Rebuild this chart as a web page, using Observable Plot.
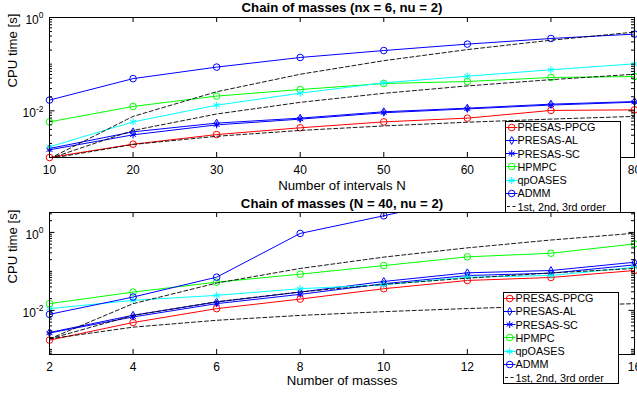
<!DOCTYPE html>
<html><head><meta charset="utf-8">
<script src="https://cdn.jsdelivr.net/npm/d3@7"></script>
<script src="https://cdn.jsdelivr.net/npm/@observablehq/plot@0.6"></script>
<style>
body{margin:0;background:#fff;}
#fig{position:relative;width:637px;height:394px;overflow:hidden;background:#fff;font-family:"Liberation Sans",Arial,Helvetica,sans-serif;}
#fig > svg{position:absolute;left:0;}
.legend{position:absolute;background:#fff;border:1px solid #000;box-sizing:border-box;font-size:10.8px;color:#000;}
.legend .row{position:absolute;left:0;height:13px;display:flex;align-items:center;white-space:nowrap;}
.legend svg{flex:none;display:block;}
</style></head><body><div id="fig"></div>
<script>
// ---------- data ----------
const intervalsN = [10, 20, 30, 40, 50, 60, 70, 80];
const massesM = [2, 4, 6, 8, 10, 12, 14, 16];
const seriesNames = ["PRESAS-PPCG", "PRESAS-AL", "PRESAS-SC", "HPMPC", "qpOASES", "ADMM"];
const refName = "1st, 2nd, 3rd order";

// top: Chain of masses (nx = 6, nu = 2), CPU time [s] vs N
const topPPCG  = [1.0e-3, 1.93e-3, 3.1e-3, 4.33e-3, 5.8e-3, 6.97e-3, 1.02e-2, 1.05e-2];
const topAL    = [1.56e-3, 3.55e-3, 5.45e-3, 6.97e-3, 9.55e-3, 1.14e-2, 1.39e-2, 1.58e-2];
const topSC    = [1.46e-3, 3.06e-3, 5.0e-3, 6.64e-3, 9.1e-3, 1.1e-2, 1.33e-2, 1.53e-2];
const topHPMPC = [5.8e-3, 1.24e-2, 2.07e-2, 2.86e-2, 3.85e-2, 4.25e-2, 5.18e-2, 5.43e-2];
const topQP    = [1.69e-3, 5.8e-3, 1.32e-2, 2.39e-2, 3.98e-2, 5.53e-2, 7.57e-2, 0.1016];
const topADMM  = [1.7e-2, 4.9e-2, 8.65e-2, 0.139, 0.196, 0.269, 0.355, 0.441];
const topOrder1 = [9.5e-4, 1.9e-3, 2.85e-3, 3.8e-3, 4.75e-3, 5.7e-3, 6.65e-3, 7.6e-3];
const topOrder2 = [9.5e-4, 3.8e-3, 8.55e-3, 1.52e-2, 2.375e-2, 3.42e-2, 4.655e-2, 6.08e-2];
const topOrder3 = [9.5e-4, 7.6e-3, 2.565e-2, 6.08e-2, 0.11875, 0.2052, 0.32585, 0.4864];

// bottom: Chain of masses (N = 40, nu = 2), CPU time [s] vs number of masses
const botPPCG  = [1.73e-3, 4.89e-3, 1.11e-2, 1.95e-2, 3.6e-2, 5.86e-2, 6.98e-2, 0.1054];
const botAL    = [2.71e-3, 7.5e-3, 1.64e-2, 2.95e-2, 5.52e-2, 9.2e-2, 0.1054, 0.1718];
const botSC    = [2.63e-3, 6.79e-3, 1.49e-2, 2.58e-2, 4.83e-2, 7.85e-2, 9.0e-2, 0.147];
const botHPMPC = [1.49e-2, 2.95e-2, 5.3e-2, 8.49e-2, 0.141, 0.236, 0.292, 0.506];
const botQP    = [1.11e-2, 1.81e-2, 2.43e-2, 3.6e-2, 4.54e-2, 7.11e-2, 7.85e-2, 0.128];
const botADMM  = [7.94e-3, 2.2e-2, 7.11e-2, 0.942, 2.67, 8.0, 15.0, 25.0];
const botOrder1 = [1.86e-3, 3.72e-3, 5.58e-3, 7.44e-3, 9.3e-3, 1.116e-2, 1.302e-2, 1.488e-2];
const botOrder2 = [1.86e-3, 7.44e-3, 1.674e-2, 2.976e-2, 4.65e-2, 6.696e-2, 9.114e-2, 0.11904];
const botOrder3 = [1.86e-3, 1.488e-2, 5.022e-2, 0.11904, 0.2325, 0.40176, 0.63798, 0.95232];

const yTickValues = [1e-2, 1];

// ---------- styles ----------
const seriesColors = ["#ff0000", "#0000ff", "#0000ff", "#00ff00", "#00ffff", "#0000ff"];
const seriesSymbols = ["circle", "diamond", "asterisk", "circle", "asterisk", "circle"];
const symbolR = {circle: 3.3, diamond: 2.4, asterisk: 3.3};
const FONT = '"Liberation Sans", Arial, Helvetica, sans-serif';

function makePlot(cfg) {
  const W = 637, ml = 49, mr = 3;
  const {height, mt, mb} = cfg;
  const pw = W - ml - mr, ph = height - mt - mb;
  const [y0, y1] = cfg.yDomain;
  const yMinor = [];
  for (let k = Math.floor(Math.log10(y0)); k <= Math.ceil(Math.log10(y1)); k++) {
    for (let m = 1; m <= 9; m++) {
      const v = m * Math.pow(10, k);
      if (v < y0 || v > y1) continue;
      if (yTickValues.some(t => Math.abs(t - v) / t < 1e-9)) continue;
      yMinor.push(v);
    }
  }
  const marks = [];
  cfg.series.forEach((vals, i) => {
    const rows = cfg.xs.map((x, j) => ({x, y: vals[j]}));
    marks.push(Plot.line(rows, {x: "x", y: "y", stroke: seriesColors[i], strokeWidth: 1, clip: true}));
    marks.push(Plot.dot(rows.filter(d => d.y >= y0 && d.y <= y1), {x: "x", y: "y", symbol: seriesSymbols[i], r: symbolR[seriesSymbols[i]], stroke: seriesColors[i], fill: "none", strokeWidth: 1}));
  });
  cfg.refs.forEach(vals => {
    const rows = cfg.xs.map((x, j) => ({x, y: vals[j]}));
    marks.push(Plot.line(rows, {x: "x", y: "y", stroke: "black", strokeWidth: 0.9, strokeDasharray: "4,2.5", clip: true}));
  });
  // ticks (inward, mirrored)
  marks.push(
    Plot.tickY(yMinor, {y: d => d, insetRight: pw - 3, stroke: "black"}),
    Plot.tickY(yMinor, {y: d => d, insetLeft: pw - 3, stroke: "black"}),
    Plot.tickY(yTickValues.filter(v => v >= y0 && v <= y1), {y: d => d, insetRight: pw - 5.5, stroke: "black"}),
    Plot.tickY(yTickValues.filter(v => v >= y0 && v <= y1), {y: d => d, insetLeft: pw - 5.5, stroke: "black"}),
    Plot.tickX(cfg.xs, {x: d => d, insetTop: ph - 5, stroke: "black"}),
    Plot.tickX(cfg.xs, {x: d => d, insetBottom: ph - 5, stroke: "black"}),
    Plot.frame({stroke: "black", strokeWidth: 1}),
    Plot.axisX(cfg.xs, {anchor: "bottom", tickSize: 0, tickPadding: 8, fontSize: 12, label: null, tickFormat: d => String(d)}),
    Plot.axisY(yTickValues.filter(v => v >= y0 && v <= y1), {anchor: "left", tickSize: 0, tickPadding: 6, fontSize: 12, label: null, tickFormat: d => "10^" + Math.round(Math.log10(d))}),
    Plot.text([cfg.title], {text: d => d, frameAnchor: "top", lineAnchor: "middle", dy: cfg.titleDy, fontWeight: "bold", fontSize: 13.2}),
    Plot.text([cfg.xlabel], {text: d => d, frameAnchor: "bottom", lineAnchor: "middle", dy: cfg.xlabelDy, fontSize: 13.2}),
    Plot.text(["CPU time [s]"], {text: d => d, frameAnchor: "left", lineAnchor: "middle", dx: -37, rotate: -90, fontSize: 13.2})
  );
  const svg = Plot.plot({
    width: W, height, marginLeft: ml, marginRight: mr, marginTop: mt, marginBottom: mb,
    x: {domain: cfg.xDomain, axis: null},
    y: {type: "log", domain: cfg.yDomain, axis: null},
    style: {fontFamily: FONT, fontSize: "12px", background: "white", color: "black"},
    marks
  });
  // superscript exponents on y tick labels
  d3.select(svg).selectAll('g[aria-label="y-axis tick label"] text').each(function () {
    const t = d3.select(this);
    const s = t.text();
    const [base, exp] = s.split("^");
    t.text(null);
    t.append("tspan").attr("dy", "2.5px").text(base);
    t.append("tspan").attr("dy", "-5.6px").attr("font-size", "8.5px").text(exp);
  });
  return svg;
}

function makeLegend(left, top) {
  const div = document.createElement("div");
  div.className = "legend";
  div.style.left = left + "px";
  div.style.top = top + "px";
  div.style.width = "116px";
  div.style.height = "92px";
  const rowH = 13.25;
  const entries = seriesNames.map((n, i) => ({name: n, color: seriesColors[i], symbol: seriesSymbols[i]}));
  entries.push({name: refName, color: "black", symbol: null});
  const symMap = {circle: d3.symbolCircle, diamond: d3.symbolDiamond, asterisk: d3.symbolAsterisk};
  entries.forEach((e, i) => {
    const row = document.createElement("div");
    row.className = "row";
    row.style.top = (i * rowH - 1) + "px";
    const s = d3.create("svg").attr("width", 11.5).attr("height", 13);
    if (e.symbol) {
      s.append("line").attr("x1", 0).attr("x2", 11.5).attr("y1", 6.5).attr("y2", 6.5).attr("stroke", e.color).attr("stroke-width", 1);
      if (e.symbol === "circle") {
        s.append("circle").attr("cx", 5.7).attr("cy", 6.5).attr("r", symbolR.circle).attr("fill", "none").attr("stroke", e.color);
      } else {
        const r = symbolR[e.symbol];
        s.append("path").attr("transform", "translate(5.7,6.5)").attr("d", d3.symbol(symMap[e.symbol], r * r * Math.PI)()).attr("fill", "none").attr("stroke", e.color);
      }
    } else {
      s.append("line").attr("x1", 1).attr("x2", 11).attr("y1", 6.5).attr("y2", 6.5).attr("stroke", "black").attr("stroke-width", 0.9).attr("stroke-dasharray", "3,2.5");
    }
    row.appendChild(s.node());
    const sp = document.createElement("span");
    sp.textContent = e.name;
    row.appendChild(sp);
    div.appendChild(row);
  });
  return div;
}

const fig = document.getElementById("fig");
const topSvg = makePlot({
  xs: intervalsN, xDomain: [10, 80], yDomain: [1e-3, 1],
  series: [topPPCG, topAL, topSC, topHPMPC, topQP, topADMM],
  refs: [topOrder1, topOrder2, topOrder3],
  title: "Chain of masses (nx = 6, nu = 2)", xlabel: "Number of intervals N",
  height: 197, mt: 17, mb: 40, titleDy: -9.7, xlabelDy: 28
});
topSvg.style.top = "0px";
const botSvg = makePlot({
  xs: massesM, xDomain: [2, 16], yDomain: [7.4e-4, 3.24],
  series: [botPPCG, botAL, botSC, botHPMPC, botQP, botADMM],
  refs: [botOrder1, botOrder2, botOrder3],
  title: "Chain of masses (N = 40, nu = 2)", xlabel: "Number of masses",
  height: 197, mt: 15, mb: 40, titleDy: -8.5, xlabelDy: 26
});
botSvg.style.top = "197px";
fig.appendChild(topSvg);
fig.appendChild(botSvg);
fig.appendChild(makeLegend(505, 120.5));
fig.appendChild(makeLegend(503, 291.7));
</script></body></html>
